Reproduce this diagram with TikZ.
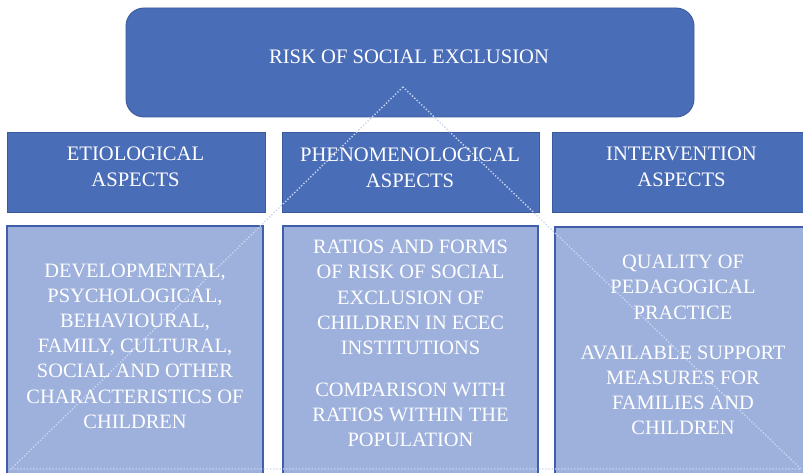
\documentclass[tikz,border=0pt]{standalone}
\usepackage{fontspec}
\setmainfont{Liberation Serif}
\definecolor{darkfill}{HTML}{4A6DB7}
\definecolor{darkline}{HTML}{3A5A9E}
\definecolor{lightfill}{HTML}{9EB1DC}
\definecolor{lightline}{HTML}{3F5FA8}
\definecolor{dotcol}{HTML}{CAD7F1}
\tikzset{
  topbox/.style={draw=darkline, fill=darkfill, line width=0.9pt, rounded corners=18pt, inner sep=0pt, outer sep=0pt, anchor=north west},
  headbox/.style={draw=darkline, fill=darkfill, line width=0.9pt, inner sep=0pt, outer sep=0pt, anchor=north west},
  contentbox/.style={draw=lightline, fill=lightfill, line width=1.6pt, inner sep=0pt, outer sep=0pt, anchor=north west},
  dotline/.style={draw=dotcol, line width=1.4pt, dash pattern=on 1.3pt off 1.9pt},
  headtxt/.style={text=white, inner sep=0pt, anchor=north, align=center, font=\fontsize{20.6}{26}\selectfont},
  bodytxt/.style={text=white, inner sep=0pt, anchor=north, align=center, font=\fontsize{20.4}{25.2}\selectfont},
}
\begin{document}
\begin{tikzpicture}[x=1pt,y=-1pt]
\useasboundingbox (0,0) rectangle (803,473);
\clip (0,0) rectangle (803,473);
\fill[white] (0,0) rectangle (803,473);

% top box
\node[topbox, minimum width=568pt, minimum height=109pt] (top) at (126,8) {};

% heading boxes
\node[headbox, minimum width=258pt, minimum height=80pt] (h1) at (7,132.5) {};
\node[headbox, minimum width=257pt, minimum height=80pt] (h2) at (282,132.5) {};
\node[headbox, minimum width=260pt, minimum height=80pt] (h3) at (552,132) {};

% content boxes
\node[contentbox, minimum width=256pt, minimum height=260pt] (c1) at (7,226) {};
\node[contentbox, minimum width=255pt, minimum height=260pt] (c2) at (283,226) {};
\node[contentbox, minimum width=258pt, minimum height=260pt] (c3) at (555,227) {};

% dotted triangle
\coordinate (apex) at (403,87);
\coordinate (bl) at (11,469);
\coordinate (br) at (801,469);
\draw[dotline] (apex) -- (bl) -- (br) -- cycle;

% texts
\node[headtxt] (t0) at (409,50) {RISK OF SOCIAL EXCLUSION};
\node[headtxt] (t1) at (135.5,147) {ETIOLOGICAL\\ASPECTS};
\node[headtxt] (t2) at (410,148) {PHENOMENOLOGICAL\\ASPECTS};
\node[headtxt] (t3) at (681.5,147) {INTERVENTION\\ASPECTS};

\node[bodytxt] (b1) at (135,263.3) {DEVELOPMENTAL,\\PSYCHOLOGICAL,\\BEHAVIOURAL,\\FAMILY, CULTURAL,\\SOCIAL AND OTHER\\CHARACTERISTICS OF\\CHILDREN};
\node[bodytxt] (b2) at (410.5,240) {RATIOS AND FORMS\\OF RISK OF SOCIAL\\EXCLUSION OF\\CHILDREN IN ECEC\\INSTITUTIONS\\[16.5pt]COMPARISON WITH\\RATIOS WITHIN THE\\POPULATION};
\node[bodytxt] (b3) at (683,255) {QUALITY OF\\PEDAGOGICAL\\PRACTICE\\[15pt]AVAILABLE SUPPORT\\MEASURES FOR\\FAMILIES AND\\CHILDREN};
\end{tikzpicture}
\end{document}
